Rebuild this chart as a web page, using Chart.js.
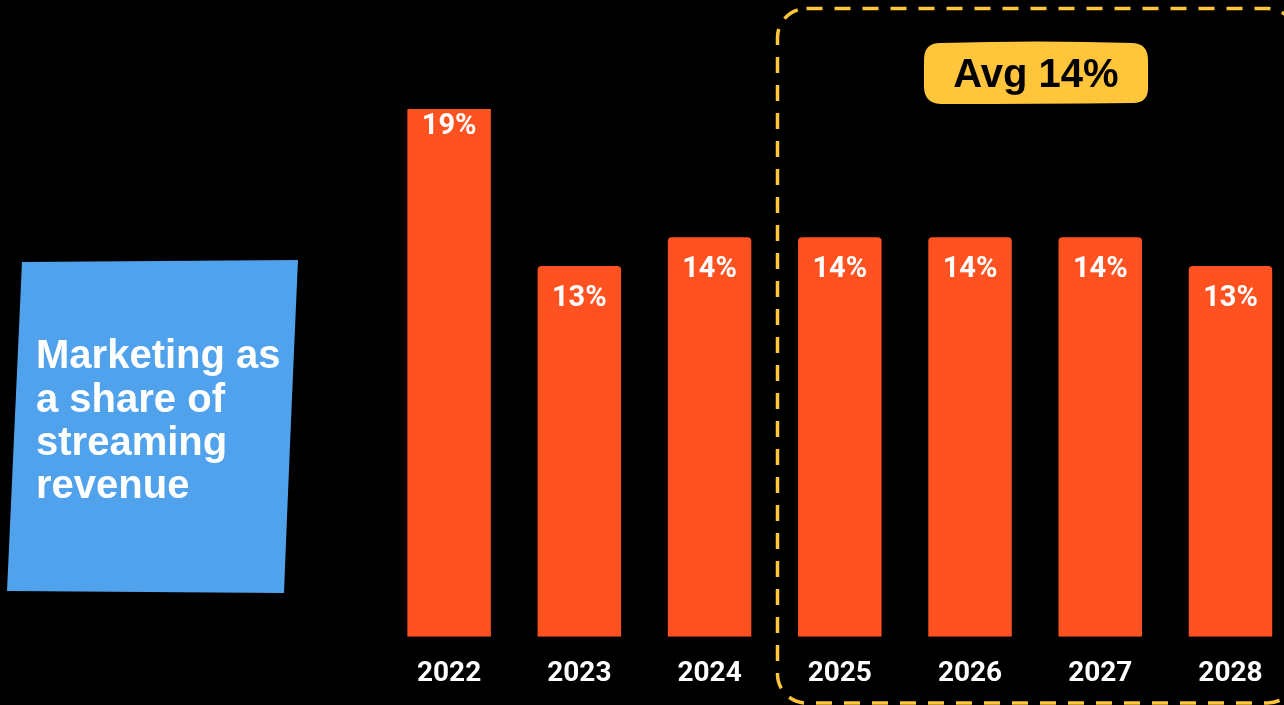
<!DOCTYPE html>
<html>
<head>
<meta charset="utf-8">
<script src="https://cdn.jsdelivr.net/npm/chart.js@4/dist/chart.umd.min.js"></script>
<style>
  html, body { margin: 0; padding: 0; background: #000; overflow: hidden; }
  #wrap { position: relative; width: 1300px; height: 705px; }
</style>
</head>
<body>
<div id="wrap"><canvas id="c"></canvas></div>
<script>
// Marketing spend as a share of streaming revenue, by year
const years = ['2022', '2023', '2024', '2025', '2026', '2027', '2028'];
const shares = [19, 13, 14, 14, 14, 14, 13];
const forecastYears = ['2025', '2026', '2027', '2028'];
const noteLines = ['Marketing as', 'a share of', 'streaming', 'revenue'];

const BAR = '#FF5220';
const BLUE = '#50A2EC';
const GOLD = '#FFC53B';

function roundRect(ctx, x, y, w, h, r) {
  ctx.beginPath();
  ctx.moveTo(x + r, y);
  ctx.lineTo(x + w - r, y);
  ctx.arcTo(x + w, y, x + w, y + r, r);
  ctx.lineTo(x + w, y + h - r);
  ctx.arcTo(x + w, y + h, x + w - r, y + h, r);
  ctx.lineTo(x + r, y + h);
  ctx.arcTo(x, y + h, x, y + h - r, r);
  ctx.lineTo(x, y + r);
  ctx.arcTo(x, y, x + r, y, r);
  ctx.closePath();
}

const decorations = {
  id: 'decorations',
  afterDatasetsDraw(chart) {
    const ctx = chart.ctx;
    const meta = chart.getDatasetMeta(0);
    const yScale = chart.scales.y;

    // value labels, anchored just below each bar's value position
    ctx.save();
    ctx.fillStyle = '#fff';
    ctx.font = 'bold 29px Roboto';
    ctx.textAlign = 'center';
    ctx.textBaseline = 'middle';
    shares.forEach((v, i) => {
      const bar = meta.data[i];
      ctx.fillText(v + '%', bar.x, yScale.getPixelForValue(v) + 32.5);
    });
    ctx.restore();
  },
  afterDraw(chart) {
    const ctx = chart.ctx;

    // blue sticky note
    ctx.save();
    ctx.fillStyle = BLUE;
    ctx.beginPath();
    ctx.moveTo(22, 262);
    ctx.lineTo(298, 260);
    ctx.quadraticCurveTo(290, 440, 284, 593);
    ctx.lineTo(7, 591);
    ctx.closePath();
    ctx.fill();
    ctx.fillStyle = '#fff';
    ctx.font = 'bold 40px "Liberation Sans", Arial, sans-serif';
    ctx.textAlign = 'left';
    ctx.textBaseline = 'alphabetic';
    const baselines = [368, 412, 455, 498];
    noteLines.forEach((t, i) => ctx.fillText(t, 36, baselines[i]));
    ctx.restore();

    // dashed frame around the forecast years
    ctx.save();
    ctx.strokeStyle = GOLD;
    ctx.lineWidth = 3.5;
    ctx.setLineDash([16, 12]);
    roundRect(ctx, 777.5, 8.5, 519, 694.5, 29);
    ctx.stroke();
    ctx.restore();

    // average badge
    const fc = forecastYears.map(y => shares[years.indexOf(y)]);
    const avg = Math.round(fc.reduce((a, b) => a + b, 0) / fc.length);
    ctx.save();
    ctx.fillStyle = GOLD;
    ctx.beginPath();
    ctx.moveTo(940, 43);
    ctx.quadraticCurveTo(1040, 40, 1133, 43);
    ctx.quadraticCurveTo(1148, 44, 1148, 60);
    ctx.lineTo(1148, 88);
    ctx.quadraticCurveTo(1148, 103, 1133, 103);
    ctx.quadraticCurveTo(1040, 104, 942, 104);
    ctx.quadraticCurveTo(925, 104, 924, 88);
    ctx.lineTo(924, 60);
    ctx.quadraticCurveTo(924, 43, 940, 43);
    ctx.closePath();
    ctx.fill();
    ctx.fillStyle = '#000';
    ctx.font = 'bold 40px "Liberation Sans", Arial, sans-serif';
    ctx.textAlign = 'center';
    ctx.textBaseline = 'alphabetic';
    ctx.fillText('Avg ' + avg + '%', 1036, 87);
    ctx.restore();
  }
};

new Chart(document.getElementById('c'), {
  type: 'bar',
  data: {
    labels: years,
    datasets: [{
      data: shares,
      backgroundColor: BAR,
      borderRadius: { topLeft: 4, topRight: 4, bottomLeft: 0, bottomRight: 0 },
      borderSkipped: 'bottom',
      categoryPercentage: 1,
      barPercentage: 0.641,
      clip: 0
    }]
  },
  options: {
    responsive: true,
    maintainAspectRatio: false,
    animation: false,
    events: [],
    layout: { padding: { left: 384, right: 4.4, top: 109, bottom: 0 } },
    plugins: { legend: { display: false }, tooltip: { enabled: false } },
    scales: {
      x: {
        grid: { display: false, drawTicks: false },
        border: { display: false },
        afterFit(scale) { scale.height = 68.3; },
        ticks: {
          color: '#fff',
          font: { family: 'Roboto', weight: 'bold', size: 28 },
          padding: 20,
          maxRotation: 0,
          autoSkip: false
        }
      },
      y: {
        display: false,
        min: 0,
        max: 18.5
      }
    }
  },
  plugins: [decorations]
});
</script>
</body>
</html>
